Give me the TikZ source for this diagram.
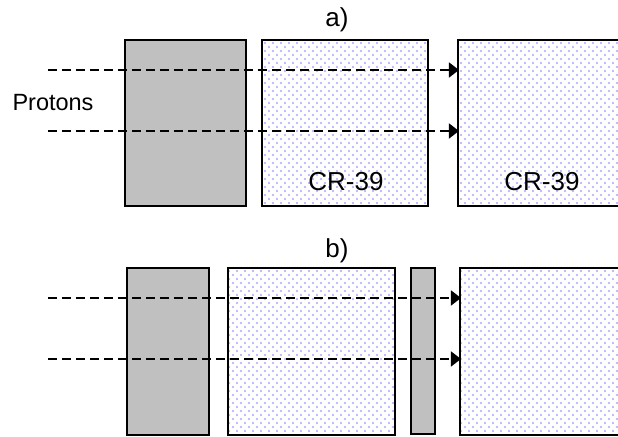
\documentclass[tikz,border=0pt]{standalone}
\usepackage{fontspec}
\setmainfont{Liberation Sans}
\usetikzlibrary{arrows.meta,patterns}
\definecolor{dotblue}{RGB}{165,165,255}
\definecolor{slab}{RGB}{192,192,192}
\pgfdeclarepatternformonly{crdots}{\pgfqpoint{0pt}{0pt}}{\pgfqpoint{4pt}{4pt}}{\pgfqpoint{4pt}{4pt}}{
\pgfpathcircle{\pgfqpoint{1pt}{1pt}}{0.55pt}
\pgfpathcircle{\pgfqpoint{3pt}{3pt}}{0.55pt}
\pgfusepath{fill}}
\begin{document}
\begin{tikzpicture}
[x=0.5pt,y=-0.5pt,>={Triangle[length=5pt,width=7.5pt]},
plate/.style = {draw, line width=1pt, inner sep=0pt, outer sep=0pt},
absorber/.style = {plate, fill=slab},
detector/.style = {plate, pattern=crdots, pattern color=dotblue},
beam/.style = {dashed, dash pattern=on 4.4pt off 2.6pt, line width=0.75pt, ->},
txt/.style = {font=\fontsize{13}{15}\selectfont, inner sep=0pt},]
\useasboundingbox (0,0) rectangle (618,437);
\clip (0,0) rectangle (618,437);
% a)
\node (A1) at (185.5,123)[absorber,minimum width=60.5pt,minimum height=83pt] {};
\node (D1) at (345,123)[detector,minimum width=83pt,minimum height=83pt] {};
\node (D2) at (541,123)[detector,minimum width=83pt,minimum height=83pt] {};
\node (la) at (337,19.5)[txt] {a)};
\node (pr) at (53,103)[txt,font=\fontsize{11.75}{14}\selectfont] {Protons};
\node (c1) at (346,182)[txt] {CR-39};
\node (c2) at (542,182)[txt] {CR-39};
\coordinate (s1) at (48,70);
\coordinate (e1) at (459,70);
\coordinate (s2) at (48,131);
\coordinate (e2) at (459,131);
\draw[beam] (s1)--(e1);
\draw[beam] (s2)--(e2);
% b)
\node (A2) at (168,351.5)[absorber,minimum width=41pt,minimum height=83.5pt] {};
\node (D3) at (311.5,351.5)[detector,minimum width=83.5pt,minimum height=83.5pt] {};
\node (A3) at (423.5,351)[absorber,minimum width=12pt,minimum height=83pt] {};
\node (D4) at (543.5,351.5)[detector,minimum width=83.5pt,minimum height=83.5pt] {};
\node (lb) at (337,251)[txt] {b)};
\coordinate (s3) at (48,298);
\coordinate (e3) at (461,298);
\coordinate (s4) at (48,359);
\coordinate (e4) at (461,359);
\draw[beam] (s3)--(e3);
\draw[beam] (s4)--(e4);
\end{tikzpicture}
\end{document}
